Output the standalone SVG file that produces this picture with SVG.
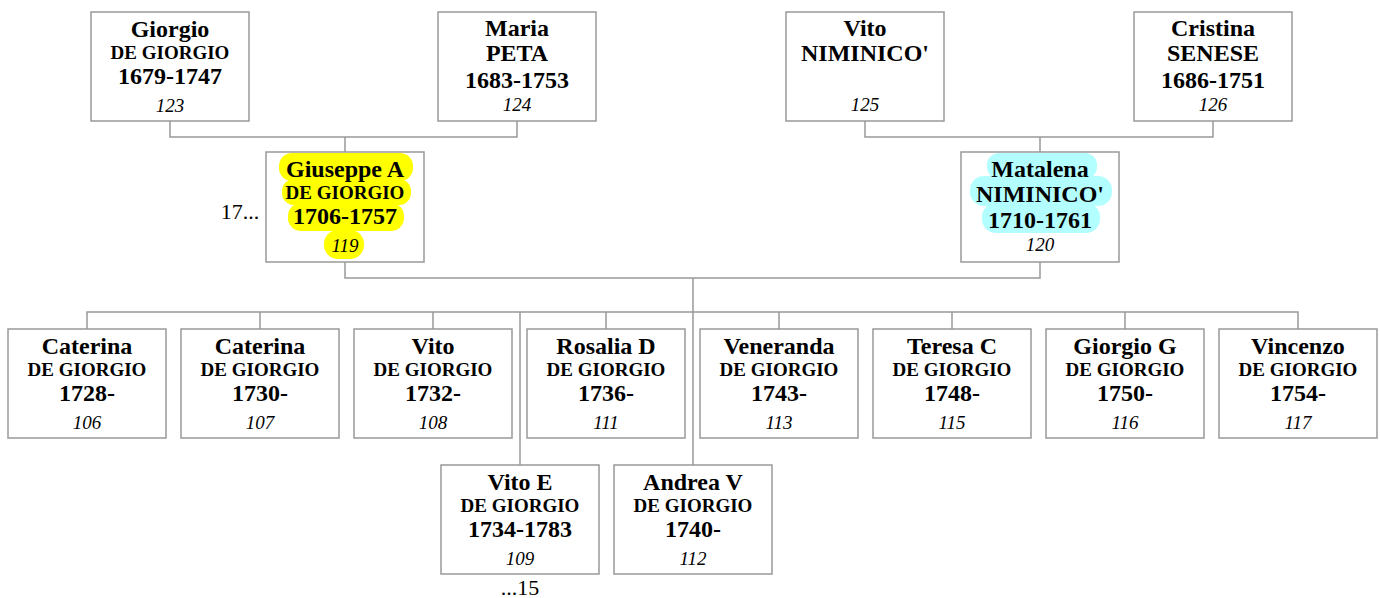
<svg xmlns="http://www.w3.org/2000/svg" width="1380" height="598" viewBox="0 0 1380 598">
<style>
.box{fill:#fff;stroke:#999;stroke-width:1.5}
.ln{fill:none;stroke:#999;stroke-width:1.5}
text{font-family:"Liberation Serif","Times New Roman",serif;text-anchor:middle;fill:#000}
.n{font-size:24px;font-weight:bold}
.s{font-size:19px;font-weight:bold}
.d{font-size:24px;font-weight:bold}
.i{font-size:19px;font-style:italic}
.o{font-size:22px}
.hy{fill:#ffff00}
.hc{fill:#b3ffff}
</style>
<rect width="1380" height="598" fill="#fff"/>
<g id="connectors">
<path class="ln" d="M170 121V137H517V121M345 137V152"/>
<path class="ln" d="M865 121V137H1213V121M1040 137V152"/>
<path class="ln" d="M345 262V278H1040V262M693 278V465"/>
<path class="ln" d="M87 329V312H1298V329M260 312V329M433 312V329M606 312V329M779 312V329M952 312V329M1125 312V329M520 312V465"/>
</g>
<g id="n123"><rect class="box" x="91" y="12" width="158" height="109"/>
<text class="n" x="170" y="37">Giorgio</text><text class="s" x="170" y="59">DE GIORGIO</text><text class="d" x="170" y="84">1679-1747</text><text class="i" x="170" y="112">123</text></g>
<g id="n124"><rect class="box" x="438" y="12" width="158" height="109"/>
<text class="n" x="517" y="36">Maria</text><text class="n" x="517" y="61">PETA</text><text class="d" x="517" y="88">1683-1753</text><text class="i" x="517" y="111">124</text></g>
<g id="n125"><rect class="box" x="786" y="12" width="158" height="109"/>
<text class="n" x="865" y="36">Vito</text><text class="n" x="865" y="61">NIMINICO'</text><text class="i" x="865" y="111">125</text></g>
<g id="n126"><rect class="box" x="1134" y="12" width="158" height="109"/>
<text class="n" x="1213" y="36">Cristina</text><text class="n" x="1213" y="61">SENESE</text><text class="d" x="1213" y="88">1686-1751</text><text class="i" x="1213" y="111">126</text></g>
<g id="n119"><rect class="box" x="266" y="152" width="158" height="110"/>
<rect class="hy" x="279" y="153" width="134" height="28" rx="13"/>
<rect class="hy" x="282" y="179" width="129" height="26" rx="12"/>
<rect class="hy" x="288" y="203" width="116" height="28" rx="13"/>
<rect class="hy" x="324" y="230" width="40" height="29" rx="14"/>
<text class="n" x="345" y="177">Giuseppe A</text><text class="s" x="345" y="199">DE GIORGIO</text><text class="d" x="345" y="224">1706-1757</text><text class="i" x="345" y="252">119</text></g>
<text class="o" x="240" y="219">17...</text>
<g id="n120"><rect class="box" x="961" y="152" width="158" height="110"/>
<rect class="hc" x="987" y="153" width="110" height="26" rx="12"/>
<rect class="hc" x="970" y="176" width="142" height="30" rx="14"/>
<rect class="hc" x="982" y="203" width="118" height="30" rx="14"/>
<text class="n" x="1040" y="177">Matalena</text><text class="n" x="1040" y="202">NIMINICO'</text><text class="d" x="1040" y="228">1710-1761</text><text class="i" x="1040" y="251">120</text></g>
<g id="n106"><rect class="box" x="8" y="329" width="158" height="109"/>
<text class="n" x="87" y="354">Caterina</text><text class="s" x="87" y="376">DE GIORGIO</text><text class="d" x="87" y="401">1728-</text><text class="i" x="87" y="429">106</text></g>
<g id="n107"><rect class="box" x="181" y="329" width="158" height="109"/>
<text class="n" x="260" y="354">Caterina</text><text class="s" x="260" y="376">DE GIORGIO</text><text class="d" x="260" y="401">1730-</text><text class="i" x="260" y="429">107</text></g>
<g id="n108"><rect class="box" x="354" y="329" width="158" height="109"/>
<text class="n" x="433" y="354">Vito</text><text class="s" x="433" y="376">DE GIORGIO</text><text class="d" x="433" y="401">1732-</text><text class="i" x="433" y="429">108</text></g>
<g id="n111"><rect class="box" x="527" y="329" width="158" height="109"/>
<text class="n" x="606" y="354">Rosalia D</text><text class="s" x="606" y="376">DE GIORGIO</text><text class="d" x="606" y="401">1736-</text><text class="i" x="606" y="429">111</text></g>
<g id="n113"><rect class="box" x="700" y="329" width="158" height="109"/>
<text class="n" x="779" y="354">Veneranda</text><text class="s" x="779" y="376">DE GIORGIO</text><text class="d" x="779" y="401">1743-</text><text class="i" x="779" y="429">113</text></g>
<g id="n115"><rect class="box" x="873" y="329" width="158" height="109"/>
<text class="n" x="952" y="354">Teresa C</text><text class="s" x="952" y="376">DE GIORGIO</text><text class="d" x="952" y="401">1748-</text><text class="i" x="952" y="429">115</text></g>
<g id="n116"><rect class="box" x="1046" y="329" width="158" height="109"/>
<text class="n" x="1125" y="354">Giorgio G</text><text class="s" x="1125" y="376">DE GIORGIO</text><text class="d" x="1125" y="401">1750-</text><text class="i" x="1125" y="429">116</text></g>
<g id="n117"><rect class="box" x="1219" y="329" width="158" height="109"/>
<text class="n" x="1298" y="354">Vincenzo</text><text class="s" x="1298" y="376">DE GIORGIO</text><text class="d" x="1298" y="401">1754-</text><text class="i" x="1298" y="429">117</text></g>
<g id="n109"><rect class="box" x="441" y="465" width="158" height="109"/>
<text class="n" x="520" y="490">Vito E</text><text class="s" x="520" y="512">DE GIORGIO</text><text class="d" x="520" y="537">1734-1783</text><text class="i" x="520" y="565">109</text></g>
<text class="o" x="520" y="595">...15</text>
<g id="n112"><rect class="box" x="614" y="465" width="158" height="109"/>
<text class="n" x="693" y="490">Andrea V</text><text class="s" x="693" y="512">DE GIORGIO</text><text class="d" x="693" y="537">1740-</text><text class="i" x="693" y="565">112</text></g>
</svg>
